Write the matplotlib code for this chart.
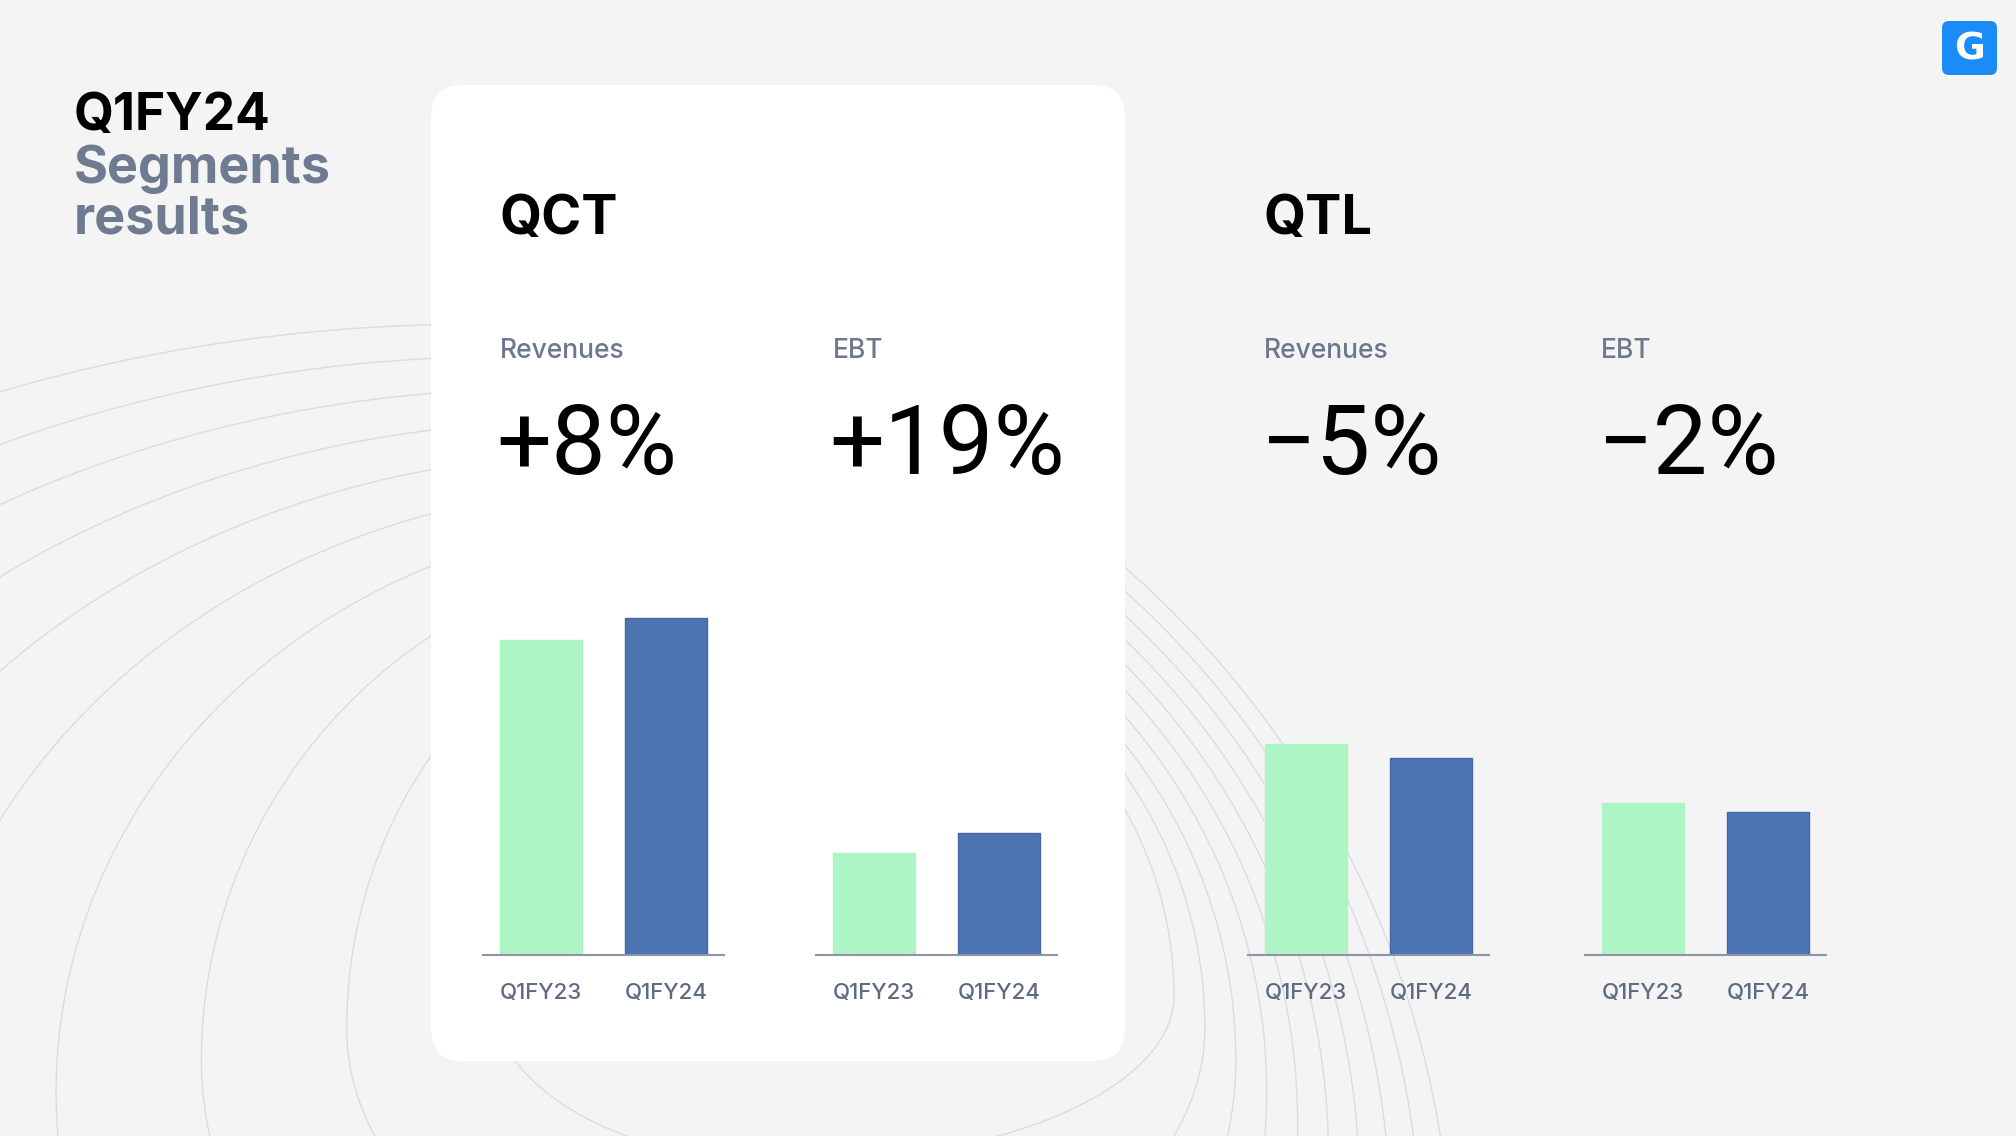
import numpy as np
import matplotlib.pyplot as plt
from matplotlib.patches import FancyBboxPatch

W, H = 2016, 1136

periods = ["Q1FY23", "Q1FY24"]
segments = ["QCT", "QTL"]
metrics = ["Revenues", "EBT"]
# bar heights, relative (QCT revenues Q1FY24 = 100)
qct_revenues = [93.5, 100.0]
qct_ebt = [30.2, 36.3]
qtl_revenues = [62.6, 58.4]
qtl_ebt = [45.0, 42.4]
changes = ["+8%", "+19%", "\u22125%", "\u22122%"]

GREEN = "#adf5c5"
BLUE = "#4d74b2"
GREY = "#6b778c"
BG = "#f4f4f4"

fig = plt.figure(figsize=(W / 100, H / 100), dpi=100, facecolor=BG)
bg = fig.add_axes([0, 0, 1, 1])
bg.set_xlim(0, W)
bg.set_ylim(H, 0)
bg.axis("off")

# background ripple rings (each ring: four quarter-ellipses, pixel units)
t = np.linspace(0, 2 * np.pi, 721)
for k in range(10):
    cx, cy = 788 - 34.7 * k, 996 + 32.1 * k
    a_left, a_right = 296 + 110.6 * k, 386 + 65.6 * k
    b_top, b_bot = 382 + 64.3 * k, 167 + 128.6 * k
    ax_r = np.where(np.cos(t) < 0, a_left, a_right)
    ax_b = np.where(np.sin(t) > 0, b_top, b_bot)
    bg.plot(cx + ax_r * np.cos(t), cy - ax_b * np.sin(t), color="#d8dce5",
            lw=1.0, zorder=1)

# white card behind QCT
card = FancyBboxPatch((431, 85), 694, 976, boxstyle="round,pad=0,rounding_size=32",
                      fc="white", ec="none", zorder=2)
bg.add_patch(card)

# logo
logo = FancyBboxPatch((1942, 21), 55, 54, boxstyle="round,pad=0,rounding_size=7",
                      fc="#1a8cf8", ec="none", zorder=3)
bg.add_patch(logo)
bg.text(1969.5, 49, "G", color="white", fontsize=27, fontweight="bold",
        family="DejaVu Sans", ha="center", va="center", zorder=4)

# title
bg.text(74, 130, "Q1FY24", fontsize=37, fontweight="bold", family="Inter",
        color="black", zorder=3)
bg.text(74, 183, "Segments", fontsize=37.5, fontweight="bold", family="Inter",
        color="#6f7b90", zorder=3)
bg.text(74, 234, "results", fontsize=37.5, fontweight="bold", family="Inter",
        color="#6f7b90", zorder=3)

# segment headers
seg_x = [499, 1264]
for s, x in zip(segments, seg_x):
    bg.text(x, 234, s, fontsize=39, fontweight="bold", family="Inter",
            color="black", zorder=3)

# metric labels and changes
col_x = [500, 833, 1264, 1601]
col_metric = metrics * 2
for x, m, c in zip(col_x, col_metric, changes):
    bg.text(x, 358, m, fontsize=19, fontweight="medium", family="Inter",
            color=GREY, zorder=3)
    bg.text(x - 4, 474, c, fontsize=70, family=["Roboto", "DejaVu Sans"],
            color="black", zorder=3)

# bar charts
series = [qct_revenues, qct_ebt, qtl_revenues, qtl_ebt]
axis_x = [483, 816, 1248, 1585]
base_y = 955
ax_w, ax_h = 241, 400
ymax = 100 * ax_h / 337.0

for vals, x0 in zip(series, axis_x):
    ax = fig.add_axes([x0 / W, (H - base_y) / H, ax_w / W, ax_h / H], zorder=5)
    ax.patch.set_alpha(0)
    ax.bar([0, 1], vals, width=0.656, color=[GREEN, BLUE],
           edgecolor=[GREEN, "#44679f"], linewidth=1)
    ax.set_xlim(-0.464, 1.464)
    ax.set_ylim(0, ymax)
    for side in ["top", "left", "right"]:
        ax.spines[side].set_visible(False)
    ax.spines["bottom"].set_color("#8d95a5")
    ax.spines["bottom"].set_linewidth(1.5)
    ax.set_yticks([])
    ax.set_xticks([0, 1], periods)
    ax.tick_params(axis="x", length=0, pad=20, labelsize=16, labelcolor="#5f6b80")
    for lab in ax.get_xticklabels():
        lab.set_family("Inter")
        lab.set_fontweight("medium")

fig.savefig("out.png", dpi=100, facecolor=BG)
